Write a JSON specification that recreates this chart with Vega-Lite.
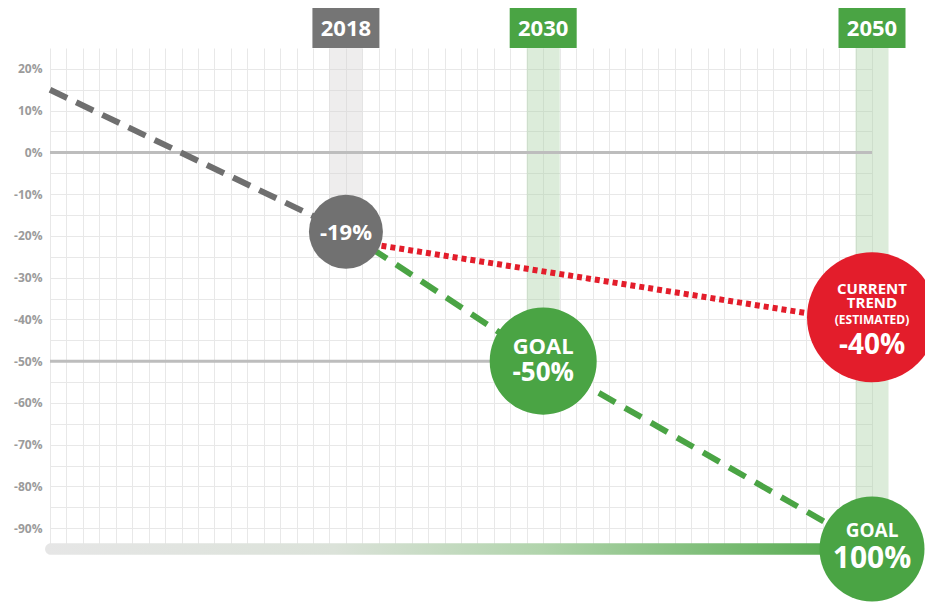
{
  "$schema": "https://vega.github.io/schema/vega-lite/v6.json",
  "width": 822,
  "height": 501,
  "autosize": {"type": "none"},
  "padding": {"left": 50, "top": 48, "right": 53, "bottom": 56},
  "background": "white",
  "config": {"view": {"stroke": null}, "font": "Open Sans"},
  "datasets": {
    "lines": [
      {"series": "history", "year": 2000, "value": 15},
      {"series": "history", "year": 2018, "value": -19},
      {"series": "goal", "year": 2018, "value": -19},
      {"series": "goal", "year": 2030, "value": -50},
      {"series": "goal", "year": 2050, "value": -95},
      {"series": "trend", "year": 2018, "value": -21},
      {"series": "trend", "year": 2050, "value": -41}
    ],
    "milestones": [
      {"kind": "actual", "year": 2018, "value": -19},
      {"kind": "goal2030", "year": 2030, "value": -50},
      {"kind": "trend", "year": 2050, "value": -39.5},
      {"kind": "goal2050", "year": 2050, "value": -95}
    ],
    "years": [
      {"year": 2018, "value": -19},
      {"year": 2030, "value": -50},
      {"year": 2050, "value": -95}
    ],
    "refs": [
      {"value": 0, "year": 2000, "end": 2050},
      {"value": -50, "year": 2000, "end": 2030}
    ],
    "baseline": [
      {"year": 1999.7, "end": 2050, "value": -93.6, "bottom": -96.4}
    ],
    "labels": [
      {"kind": "actual", "line": 1, "year": 2018, "value": -19, "text": "-19%"},
      {"kind": "goal2030", "line": 1, "year": 2030, "value": -50, "text": "GOAL"},
      {"kind": "goal2030", "line": 2, "year": 2030, "value": -50, "text": "-50%"},
      {"kind": "trend", "line": 1, "year": 2050, "value": -40, "text": "CURRENT"},
      {"kind": "trend", "line": 2, "year": 2050, "value": -40, "text": "TREND"},
      {"kind": "trend", "line": 3, "year": 2050, "value": -40, "text": "(ESTIMATED)"},
      {"kind": "trend", "line": 4, "year": 2050, "value": -40, "text": "-40%"},
      {"kind": "goal2050", "line": 1, "year": 2050, "value": -95, "text": "GOAL"},
      {"kind": "goal2050", "line": 2, "year": 2050, "value": -95, "text": "100%"}
    ]
  },
  "encoding": {
    "x": {
      "field": "year", "type": "quantitative",
      "scale": {"domain": [2000, 2050], "nice": false, "zero": false},
      "axis": {
        "title": null, "labels": false, "ticks": false, "domain": false,
        "grid": true, "gridColor": "#e8e8e8", "gridWidth": 1,
        "values": [2000,2001,2002,2003,2004,2005,2006,2007,2008,2009,2010,2011,2012,2013,2014,2015,2016,2017,2018,2019,2020,2021,2022,2023,2024,2025,2026,2027,2028,2029,2030,2031,2032,2033,2034,2035,2036,2037,2038,2039,2040,2041,2042,2043,2044,2045,2046,2047,2048,2049,2050]
      }
    },
    "y": {
      "field": "value", "type": "quantitative",
      "scale": {"domain": [-95, 25], "nice": false, "zero": false},
      "axis": {
        "title": null, "ticks": false, "domain": false,
        "grid": true, "gridColor": "#e8e8e8", "gridWidth": 1,
        "values": [-90,-85,-80,-75,-70,-65,-60,-55,-50,-45,-40,-35,-30,-25,-20,-15,-10,-5,0,5,10,15,20],
        "labelExpr": "datum.value % 10 === 0 ? datum.value + '%' : ''",
        "labelFont": "Open Sans", "labelFontWeight": "bold", "labelFontSize": 12,
        "labelColor": "#9b9b9b", "labelPadding": 8
      }
    }
  },
  "layer": [
    {
      "data": {"name": "years"},
      "mark": {"type": "rule", "strokeWidth": 33, "opacity": 0.4, "strokeCap": "butt"},
      "encoding": {
        "y2": {"datum": 25},
        "color": {"condition": {"test": "datum.year === 2018", "value": "#d5d1d1"}, "value": "#a8d0a2"}
      }
    },
    {
      "data": {"name": "baseline"},
      "mark": {
        "type": "rect", "cornerRadius": 6,
        "color": {
          "gradient": "linear", "x1": 0, "y1": 0, "x2": 1, "y2": 0,
          "stops": [
            {"offset": 0, "color": "#e6e6e6"},
            {"offset": 0.35, "color": "#dbe2d9"},
            {"offset": 0.6, "color": "#b1d4ac"},
            {"offset": 0.85, "color": "#72b86c"},
            {"offset": 1, "color": "#4aa444"}
          ]
        }
      },
      "encoding": {
        "x2": {"field": "end"},
        "y2": {"field": "bottom"}
      }
    },
    {
      "data": {"name": "refs"},
      "mark": {"type": "rule", "strokeWidth": 3, "color": "#bdbdbd"},
      "encoding": {"x2": {"field": "end"}}
    },
    {
      "data": {"name": "lines"},
      "transform": [{"filter": "datum.series === 'history'"}],
      "mark": {"type": "line", "color": "#6f6f6f", "strokeWidth": 6, "strokeDash": [19, 10]},
      "encoding": {}
    },
    {
      "data": {"name": "lines"},
      "transform": [{"filter": "datum.series === 'goal'"}],
      "mark": {"type": "line", "color": "#4aa444", "strokeWidth": 6, "strokeDash": [19, 11]},
      "encoding": {}
    },
    {
      "data": {"name": "lines"},
      "transform": [{"filter": "datum.series === 'trend'"}],
      "mark": {"type": "line", "color": "#e31d2b", "strokeWidth": 6, "strokeDash": [5, 4]},
      "encoding": {}
    },
    {
      "data": {"name": "milestones"},
      "transform": [{"filter": "datum.kind === 'actual'"}],
      "mark": {"type": "point", "shape": "circle", "filled": true, "opacity": 1, "size": 5476, "color": "#717171"}
    },
    {
      "data": {"name": "milestones"},
      "transform": [{"filter": "datum.kind === 'goal2030'"}],
      "mark": {"type": "point", "shape": "circle", "filled": true, "opacity": 1, "size": 11449, "color": "#4aa444"}
    },
    {
      "data": {"name": "milestones"},
      "transform": [{"filter": "datum.kind === 'trend'"}],
      "mark": {"type": "point", "shape": "circle", "filled": true, "opacity": 1, "size": 16900, "color": "#e31d2b"}
    },
    {
      "data": {"name": "milestones"},
      "transform": [{"filter": "datum.kind === 'goal2050'"}],
      "mark": {"type": "point", "shape": "circle", "filled": true, "opacity": 1, "size": 11025, "color": "#4aa444"}
    },
    {
      "data": {"name": "labels"},
      "transform": [{"filter": "datum.kind === 'actual'"}],
      "mark": {"type": "text", "color": "white", "fontWeight": "bold", "fontSize": 22, "baseline": "alphabetic", "dy": 8},
      "encoding": {"text": {"field": "text"}}
    },
    {
      "data": {"name": "labels"},
      "transform": [{"filter": "datum.kind === 'goal2030' && datum.line === 1"}],
      "mark": {"type": "text", "color": "white", "fontWeight": "bold", "fontSize": 22, "baseline": "alphabetic", "dy": -7},
      "encoding": {"text": {"field": "text"}}
    },
    {
      "data": {"name": "labels"},
      "transform": [{"filter": "datum.kind === 'goal2030' && datum.line === 2"}],
      "mark": {"type": "text", "color": "white", "fontWeight": "bold", "fontSize": 26, "baseline": "alphabetic", "dy": 20},
      "encoding": {"text": {"field": "text"}}
    },
    {
      "data": {"name": "labels"},
      "transform": [{"filter": "datum.kind === 'trend' && datum.line === 1"}],
      "mark": {"type": "text", "color": "white", "fontWeight": "bold", "fontSize": 15, "baseline": "alphabetic", "dy": -25},
      "encoding": {"text": {"field": "text"}}
    },
    {
      "data": {"name": "labels"},
      "transform": [{"filter": "datum.kind === 'trend' && datum.line === 2"}],
      "mark": {"type": "text", "color": "white", "fontWeight": "bold", "fontSize": 15, "baseline": "alphabetic", "dy": -11},
      "encoding": {"text": {"field": "text"}}
    },
    {
      "data": {"name": "labels"},
      "transform": [{"filter": "datum.kind === 'trend' && datum.line === 3"}],
      "mark": {"type": "text", "color": "white", "fontWeight": "bold", "fontSize": 12, "baseline": "alphabetic", "dy": 5},
      "encoding": {"text": {"field": "text"}}
    },
    {
      "data": {"name": "labels"},
      "transform": [{"filter": "datum.kind === 'trend' && datum.line === 4"}],
      "mark": {"type": "text", "color": "white", "fontWeight": "bold", "fontSize": 28, "baseline": "alphabetic", "dy": 35},
      "encoding": {"text": {"field": "text"}}
    },
    {
      "data": {"name": "labels"},
      "transform": [{"filter": "datum.kind === 'goal2050' && datum.line === 1"}],
      "mark": {"type": "text", "color": "white", "fontWeight": "bold", "fontSize": 19, "baseline": "alphabetic", "dy": -12},
      "encoding": {"text": {"field": "text"}}
    },
    {
      "data": {"name": "labels"},
      "transform": [{"filter": "datum.kind === 'goal2050' && datum.line === 2"}],
      "mark": {"type": "text", "color": "white", "fontWeight": "bold", "fontSize": 30, "baseline": "alphabetic", "dy": 19},
      "encoding": {"text": {"field": "text"}}
    },
    {
      "data": {"name": "years"},
      "mark": {"type": "rule", "strokeWidth": 67, "strokeCap": "butt"},
      "encoding": {
        "y": {"datum": 25},
        "y2": {"datum": 34.58},
        "color": {"condition": {"test": "datum.year === 2018", "value": "#757575"}, "value": "#4aa444"}
      }
    },
    {
      "data": {"name": "years"},
      "mark": {"type": "text", "color": "white", "fontWeight": "bold", "fontSize": 22, "baseline": "alphabetic"},
      "encoding": {
        "y": {"datum": 27.87},
        "text": {"field": "year", "type": "nominal"}
      }
    }
  ]
}
